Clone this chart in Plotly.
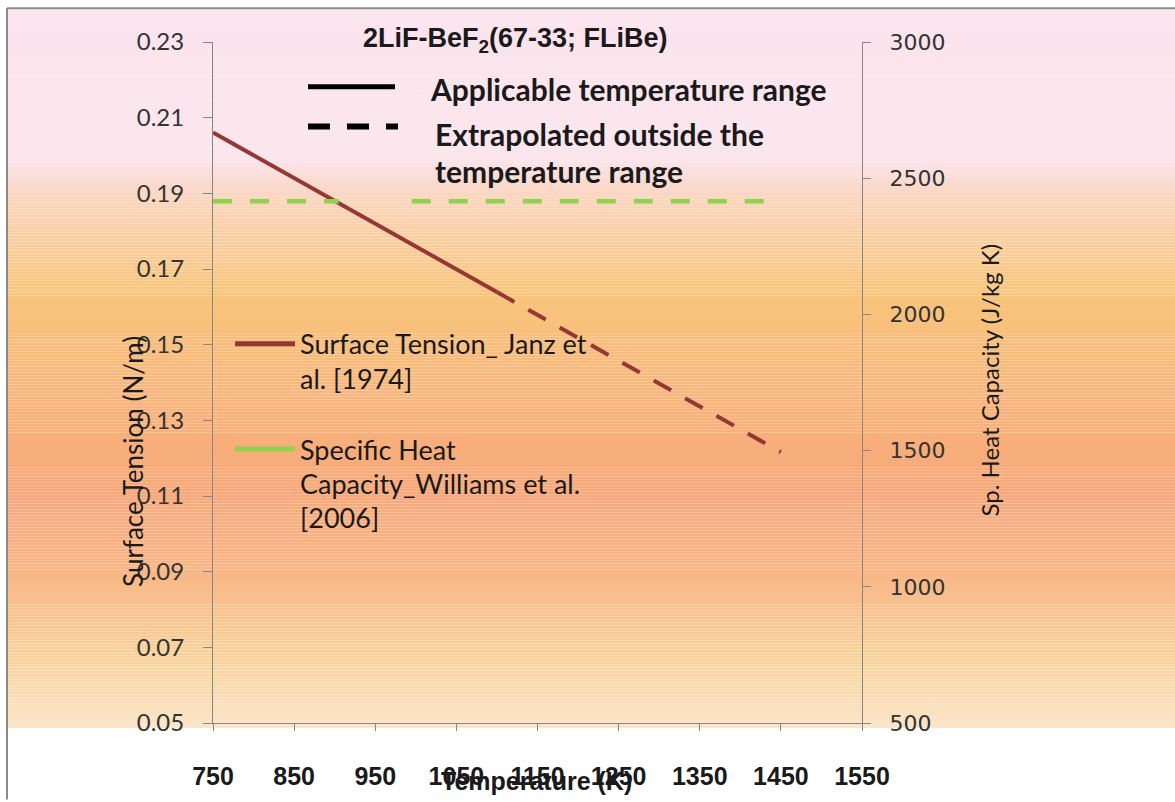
import plotly.graph_objects as go

# ---------------- data ----------------
temp_applicable = [750, 1100]
surface_tension_applicable = [0.2061, 0.1639]
temp_extrapolated = [1100, 1450]
surface_tension_extrapolated = [0.1639, 0.1216]
temp_cp = [750, 905, None, 995, 1450]
heat_capacity = [2415, 2415, None, 2415, 2415]

x_ticks = [750, 850, 950, 1050, 1150, 1250, 1350, 1450, 1550]
y_left_ticks = [0.05, 0.07, 0.09, 0.11, 0.13, 0.15, 0.17, 0.19, 0.21, 0.23]
y_right_ticks = [500, 1000, 1500, 2000, 2500, 3000]

title_text = "<b>2LiF-BeF<sub>2</sub>(67-33; FLiBe)</b>"
legend_st = ["Surface Tension_ Janz et", "al. [1974]"]
legend_cp = ["Specific Heat", "Capacity_Williams et al.", "[2006]"]

# ---------------- geometry helpers ----------------
W, H = 1175, 802
PX0, PX1, PY0, PY1 = 213, 862, 42, 728


def xp(x):
    return (x - PX0) / (PX1 - PX0)


def yp(y):
    return (PY1 - y) / (PY1 - PY0)


RED = "#953735"
GREEN = "#92D050"
AXIS = "#868686"

fig = go.Figure()

fig.add_trace(go.Scatter(x=temp_applicable, y=surface_tension_applicable, mode="lines",
                         line=dict(color=RED, width=4), showlegend=False, hoverinfo="skip"))
fig.add_trace(go.Scatter(x=temp_extrapolated, y=surface_tension_extrapolated, mode="lines",
                         line=dict(color=RED, width=4, dash="20px,16px"), showlegend=False,
                         hoverinfo="skip"))
fig.add_trace(go.Scatter(x=temp_cp, y=heat_capacity, mode="lines", yaxis="y2",
                         line=dict(color=GREEN, width=4.5, dash="19px,18px"),
                         connectgaps=False, showlegend=False, hoverinfo="skip"))

# ---------------- background gradient ----------------
stops = [(9, (0xFC, 0xE4, 0xEE)), (160, (0xFC, 0xE4, 0xEC)), (200, (0xFA, 0xD6, 0xBE)),
         (250, (0xF9, 0xCC, 0x98)), (297, (0xF8, 0xC5, 0x7C)), (400, (0xF8, 0xB5, 0x7C)),
         (495, (0xF7, 0xA8, 0x7A)), (580, (0xF8, 0xB8, 0x88)), (660, (0xF8, 0xD2, 0x9A)),
         (732, (0xFB, 0xE6, 0xCA))]


def color_at(y):
    for (ya, ca), (yb, cb) in zip(stops[:-1], stops[1:]):
        if ya <= y <= yb:
            t = (y - ya) / (yb - ya)
            c = [round(a + (b - a) * t) for a, b in zip(ca, cb)]
            return "rgb(%d,%d,%d)" % tuple(c)
    return "rgb(%d,%d,%d)" % stops[-1][1]


shapes = []
step = 3
y = 9
while y < 733:
    y2 = min(y + step, 733)
    shapes.append(dict(type="rect", xref="paper", yref="paper", x0=xp(8), x1=xp(1180),
                       y0=yp(y2), y1=yp(y), fillcolor=color_at(y + step / 2),
                       line=dict(width=0), layer="below"))
    y = y2

# frame lines
shapes.append(dict(type="line", xref="paper", yref="paper", x0=xp(7), x1=xp(1180),
                   y0=yp(8), y1=yp(8), line=dict(color="#8a8a8a", width=2)))
shapes.append(dict(type="line", xref="paper", yref="paper", x0=xp(7), x1=xp(7),
                   y0=yp(8), y1=yp(805), line=dict(color="#8a8a8a", width=2)))

# key at top
shapes.append(dict(type="line", xref="paper", yref="paper", x0=xp(308), x1=xp(395),
                   y0=yp(87), y1=yp(87), line=dict(color="black", width=5)))
shapes.append(dict(type="line", xref="paper", yref="paper", x0=xp(308), x1=xp(398),
                   y0=yp(127), y1=yp(127), line=dict(color="black", width=6, dash="22px,17px")))
# legend lines
shapes.append(dict(type="line", xref="paper", yref="paper", x0=xp(235), x1=xp(295),
                   y0=yp(346), y1=yp(346), line=dict(color=RED, width=5)))
shapes.append(dict(type="line", xref="paper", yref="paper", x0=xp(235), x1=xp(295),
                   y0=yp(452), y1=yp(452), line=dict(color=GREEN, width=5)))

ann = []


def text(x, y, s, size, family="Lato", color="#1a1a1a", xanchor="left", angle=0):
    f = dict(size=size, family=family, color=color)
    ann.append(dict(x=xp(x), y=yp(y), xref="paper", yref="paper", text=s, showarrow=False,
                    xanchor=xanchor, yanchor="middle", font=f, textangle=angle))


text(515, 40, title_text, 27, family="Liberation Sans, Arial", color="#1a1a1a", xanchor="center")
text(428, 89, "<b>Applicable temperature range</b>", 30)
text(433, 135, "<b>Extrapolated outside the</b>", 30)
text(433, 172, "<b>temperature range</b>", 30)

for i, s in enumerate(legend_st):
    text(298, 346 + 35 * i, s, 27)
for i, s in enumerate(legend_cp):
    text(298, 452 + 34.5 * i, s, 27)

text(133, 465, "Surface Tension (N/m)", 26, xanchor="center", angle=-90)
text(990, 383, "Sp. Heat Capacity (J/kg K)", 24, xanchor="center", angle=-90)
text(536, 786, "<b>Temperature (K)</b>", 25, family="Liberation Sans, Arial",
     xanchor="center")

fig.update_layout(
    width=W, height=H, autosize=False,
    margin=dict(l=PX0, r=W - PX1, t=PY0, b=H - PY1, pad=0),
    paper_bgcolor="white", plot_bgcolor="rgba(0,0,0,0)",
    showlegend=False,
    shapes=shapes, annotations=ann,
    xaxis=dict(range=[750, 1550], tickvals=x_ticks, ticktext=[str(v) for v in x_ticks],
               showgrid=False, zeroline=False, showline=True, linecolor=AXIS, linewidth=1,
               ticks="outside", ticklen=7, tickcolor=AXIS, ticklabelstandoff=24,
               tickfont=dict(family="Liberation Sans, Arial", size=25,
                             color="#1a1a1a", weight="bold")),
    yaxis=dict(range=[0.05, 0.23], tickvals=y_left_ticks, tickformat=".2f",
               showgrid=False, zeroline=False, showline=True, linecolor=AXIS, linewidth=1,
               ticks="outside", ticklen=9, tickcolor=AXIS, ticklabelstandoff=14,
               tickfont=dict(family="Lato", size=24, color="#333333")),
    yaxis2=dict(range=[500, 3000], tickvals=y_right_ticks, overlaying="y", side="right",
                showgrid=False, zeroline=False, showline=True, linecolor=AXIS, linewidth=1,
                ticks="outside", ticklen=8, tickcolor=AXIS, ticklabelstandoff=14,
                tickfont=dict(family="DejaVu Sans", size=22, color="#333333")),
)

fig.write_html("out.html", config={"displayModeBar": False},
               post_script="document.body.style.margin='0';")
